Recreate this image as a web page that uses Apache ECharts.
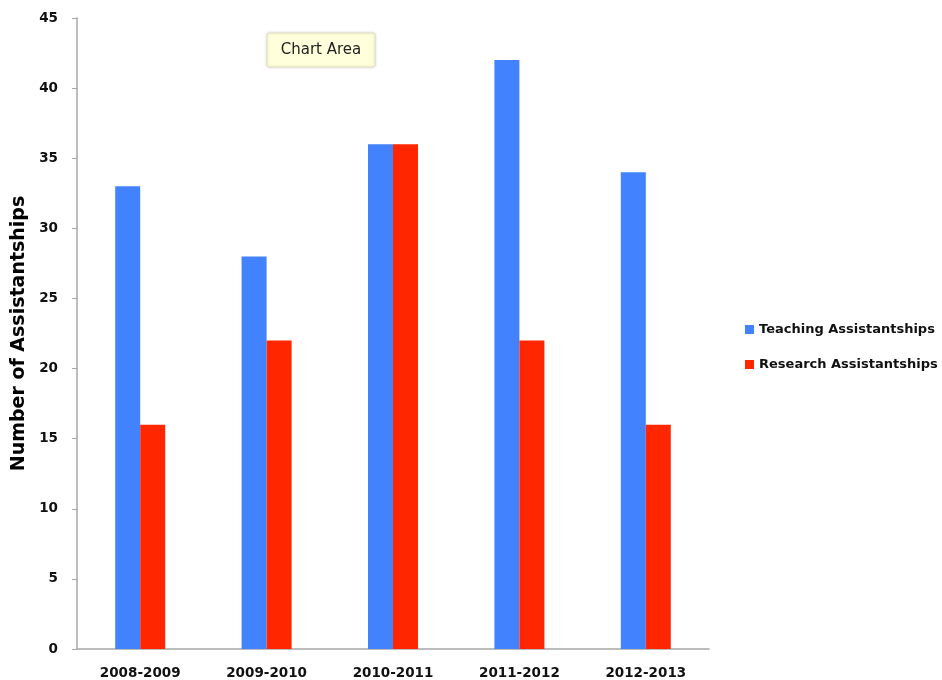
<!DOCTYPE html>
<html>
<head>
<meta charset="utf-8">
<script src="https://cdn.jsdelivr.net/npm/echarts@6/dist/echarts.min.js"></script>
<style>html,body{margin:0;padding:0;background:#fff;}#c{width:942px;height:680px;}</style>
</head>
<body>
<div id="c"></div>
<script>
const categories = ['2008-2009', '2009-2010', '2010-2011', '2011-2012', '2012-2013'];
const teaching = [33, 28, 36, 42, 34];
const research = [16, 22, 36, 22, 16];
const yTicks = [0, 5, 10, 15, 20, 25, 30, 35, 40, 45];

const chart = echarts.init(document.getElementById('c'));
const font = '"DejaVu Sans", sans-serif';
chart.setOption({
  animation: false,
  backgroundColor: '#fff',
  grid: { left: 77, right: 233, top: 18, bottom: 30, containLabel: false },
  legend: {
    orient: 'vertical',
    left: 740,
    top: 318,
    itemWidth: 9,
    itemHeight: 9,
    itemGap: 22,
    icon: 'rect',
    textStyle: { fontFamily: font, fontSize: 13, fontWeight: 'bold', color: '#111' },
    data: ['Teaching Assistantships', 'Research Assistantships']
  },
  xAxis: {
    type: 'category',
    data: categories,
    axisLine: { lineStyle: { color: '#a6a6a6', width: 1.5 } },
    axisTick: { show: false },
    axisLabel: { fontFamily: font, fontSize: 13.5, fontWeight: 'bold', color: '#111', margin: 17 }
  },
  yAxis: {
    type: 'value',
    min: 0, max: 45, interval: 5,
    name: 'Number of Assistantships',
    nameLocation: 'middle',
    nameGap: 46,
    nameTextStyle: { fontFamily: font, fontSize: 19, fontWeight: 'bold', color: '#000' },
    axisLine: { show: true, lineStyle: { color: '#a6a6a6', width: 1.5 } },
    axisTick: { show: true, length: 5, lineStyle: { color: '#a6a6a6' } },
    splitLine: { show: false },
    axisLabel: {
      fontFamily: font, fontSize: 13.5, fontWeight: 'bold', color: '#111', margin: 19,
      formatter: v => yTicks.includes(v) ? String(v) : ''
    }
  },
  series: [
    { name: 'Teaching Assistantships', type: 'bar', data: teaching, barWidth: 25, barGap: '0%',
      itemStyle: { color: '#4282ff' } },
    { name: 'Research Assistantships', type: 'bar', data: research, barWidth: 25, barGap: '0%',
      itemStyle: { color: '#ff2600' } }
  ],
  graphic: [
    { type: 'rect', x: 267, y: 33, shape: { x: 0, y: 0, width: 108, height: 34, r: 2 },
      style: { fill: '#ffffdc', stroke: '#e0e0c0', lineWidth: 1, shadowBlur: 3, shadowColor: 'rgba(0,0,0,0.15)' } },
    { type: 'text', x: 321, y: 50,
      style: { text: 'Chart Area', fontFamily: font, fontSize: 15, fill: '#222', align: 'center', verticalAlign: 'middle' } }
  ]
});
</script>
</body>
</html>
